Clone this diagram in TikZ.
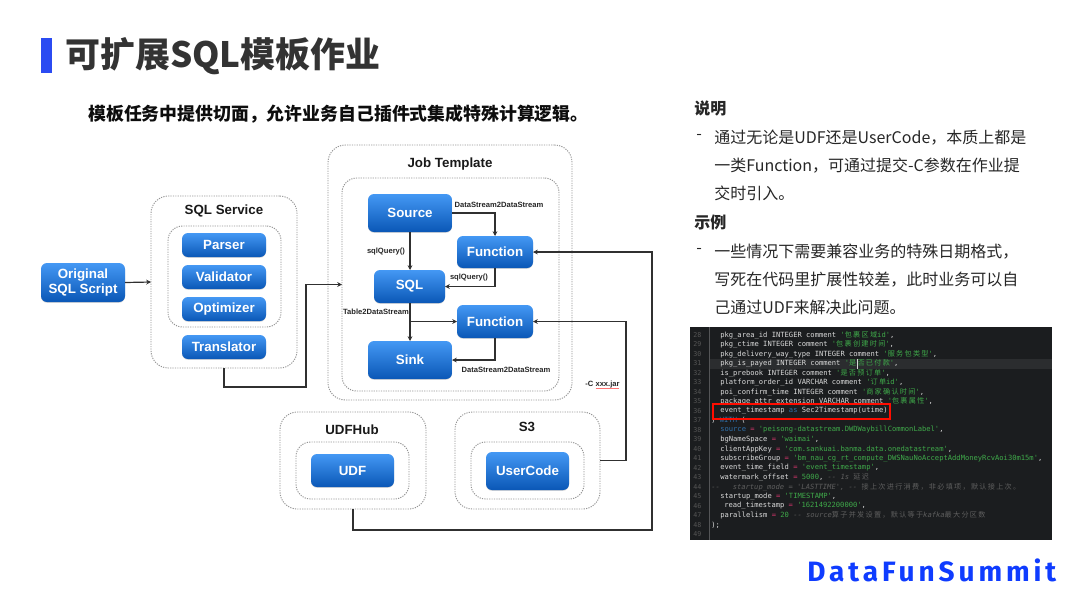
\documentclass[tikz,border=0pt]{standalone}
\usepackage{fontspec}
\setmainfont{Noto Sans CJK SC}
\setsansfont{Liberation Sans}
\setmonofont{DejaVu Sans Mono}
\newfontfamily\codezh[LetterSpace=18]{Noto Sans CJK SC}
\newfontfamily\logofont[LetterSpace=14]{Fira Sans}
\usetikzlibrary{arrows.meta, positioning, shadows}
\definecolor{barblue}{HTML}{2B4BF2}
\definecolor{logoblue}{HTML}{0F3CFF}
\definecolor{boxtop}{HTML}{4498F4}
\definecolor{boxbottom}{HTML}{0A57B6}
\definecolor{wirecol}{HTML}{303030}
\definecolor{codebg}{HTML}{1B1D1F}
\definecolor{codeband}{HTML}{2B2D2F}
\definecolor{codetxt}{HTML}{DADADA}
\definecolor{codestr}{HTML}{3FAA4A}
\definecolor{codekw}{HTML}{2F6FA8}
\definecolor{codeop}{HTML}{D0356A}
\definecolor{codecom}{HTML}{5E5E5E}
\definecolor{codenumcol}{HTML}{555555}
\newcommand{\zhs}[1]{\textcolor{codestr}{'{\codezh #1}}}
\newcommand{\strq}[1]{\textcolor{codestr}{#1}}
\newcommand{\eqop}{\textcolor{codeop}{=}}
\newcommand{\kwd}[1]{\textcolor{codekw}{#1}}
\newcommand{\comt}[1]{\textcolor{codecom}{\itshape #1}}
\tikzset{
  bluebox/.style={rounded corners=4.5pt, top color=boxtop, bottom color=boxbottom, text=white,
    font=\sffamily\bfseries\fontsize{10}{12}\selectfont, align=center, inner sep=0pt, outer sep=0pt,
    drop shadow={shadow xshift=0pt, shadow yshift=-0.6pt, opacity=0.3}},
  outerbox/.style={draw=gray!85, dash pattern=on 0.9pt off 0.9pt, rounded corners=13pt, inner sep=0pt, outer sep=0pt, line width=0.7pt},
  innerbox/.style={draw=gray!85, dash pattern=on 0.9pt off 0.9pt, rounded corners=11pt, inner sep=0pt, outer sep=0pt, line width=0.7pt},
  wire/.style={draw=wirecol, line width=0.9pt, -{Stealth[length=3.6pt,width=3.6pt]}},
  boxtitle/.style={font=\sffamily\bfseries\fontsize{10}{12}\selectfont, text=black!90, inner sep=0pt},
  wirelabel/.style={font=\sffamily\bfseries\fontsize{5.7}{7}\selectfont, text=black!85, inner sep=0pt},
  bodytext/.style={font=\fontsize{12}{14}\selectfont, text=black!85, anchor=west, inner sep=0pt},
  codetext/.style={font=\ttfamily\fontsize{5.35}{6}\selectfont, text=codetxt, anchor=west, inner sep=0pt},
  codenum/.style={font=\ttfamily\fontsize{5}{6}\selectfont, text=codenumcol, anchor=west, inner sep=0pt},
}
\begin{document}
\begin{tikzpicture}[x=0.75pt, y=-0.75pt]
  \useasboundingbox (0,0) rectangle (1080,608);
  % heading
  \fill[barblue] (41,38) rectangle (52,73);
  \node[anchor=west, inner sep=0pt, text=black!80, font=\bfseries\fontsize{26.2}{30}\selectfont] (title) at (65,56.5) {可扩展SQL模板作业};
  \node[anchor=west, inner sep=0pt, text=black!95, font=\bfseries\fontsize{13.4}{16}\selectfont] (subtitle) at (88,114) {模板任务中提供切面，允许业务自己插件式集成特殊计算逻辑。};
  % containers
  \node[outerbox, minimum width=109.5pt, minimum height=129pt] (sqlservice) at (224,282) {};
  \node[innerbox, minimum width=84.75pt, minimum height=75.75pt] (sqlinner) at (224.5,276.5) {};
  \node[outerbox, minimum width=183pt, minimum height=191.25pt] (jobtemplate) at (450,272.5) {};
  \node[innerbox, minimum width=162.75pt, minimum height=159.75pt] (jobinner) at (450.5,284.5) {};
  \node[outerbox, minimum width=109.5pt, minimum height=72.75pt] (udfhub) at (353,460.5) {};
  \node[innerbox, minimum width=84.75pt, minimum height=42.75pt] (udfinner) at (352.5,470.5) {};
  \node[outerbox, minimum width=108.75pt, minimum height=72.75pt] (sthree) at (527.5,460.5) {};
  \node[innerbox, minimum width=84.75pt, minimum height=42.75pt] (sthreeinner) at (527.5,470.5) {};
  \node[boxtitle] (sqlservicetitle) at (224,211) {SQL Service};
  \node[boxtitle] (jobtitle) at (450,164) {Job Template};
  \node[boxtitle] (udfhubtitle) at (352,430) {UDFHub};
  \node[boxtitle] (sthreetitle) at (527,427) {S3};
  % blue boxes
  \node[bluebox, minimum width=63pt, minimum height=29.25pt] (script) at (83,282.5) {Original\\[-0.5pt]SQL Script};
  \foreach \name/\y/\t in {parser/245/Parser, validator/277/Validator, optimizer/309/Optimizer, translator/347/Translator}
    \node[bluebox, minimum width=63pt, minimum height=18pt] (\name) at (224,\y) {\t};
  \node[bluebox, minimum width=63pt, minimum height=28.5pt] (source) at (410,213) {Source};
  \node[bluebox, minimum width=57pt, minimum height=24pt] (funcone) at (495,252) {Function};
  \node[bluebox, minimum width=53.25pt, minimum height=24.75pt] (sql) at (409.5,286.5) {SQL};
  \node[bluebox, minimum width=57pt, minimum height=24.75pt] (functwo) at (495,321.5) {Function};
  \node[bluebox, minimum width=63pt, minimum height=28.5pt] (sink) at (410,360) {Sink};
  \node[bluebox, minimum width=62.25pt, minimum height=24.75pt] (udf) at (352.5,470.5) {UDF};
  \node[bluebox, minimum width=62.25pt, minimum height=28.5pt] (usercode) at (527.5,471) {UserCode};
  % wires
  \coordinate (jobturn) at (306,387);
  \coordinate (branch) at (410,321.5);
  \coordinate (sthreerail) at (626,321.5);
  \coordinate (udfcorner) at (652,530);
  \coordinate (udfrail) at (652,252);
  \draw[wire] (script.east) -- (sqlservice.west);
  \draw[wire] (sqlservice.south) |- (jobturn) |- (jobinner.west);
  \draw[wire] (source.east) -| (funcone.north);
  \draw[wire] (source.south) -- (sql.north -| source.south);
  \draw[wire] (funcone.south) |- (sql.east);
  \draw[wire] (sql.south -| source.south) -- (sink.north);
  \draw[wire] (branch) -- (functwo.west);
  \draw[wire] (functwo.south) |- (sink.east);
  \draw[wire] (sthree.east) -| (sthreerail) -- (functwo.east);
  \draw[wire] (udfhub.south) |- (udfcorner) -- (udfrail) -- (funcone.east);
  \node[wirelabel] (dsone) at (499,205) {DataStream2DataStream};
  \node[wirelabel] (queryone) at (386,252) {sqlQuery()};
  \node[wirelabel] (querytwo) at (469,278) {sqlQuery()};
  \node[wirelabel] (tableds) at (376,312) {Table2DataStream};
  \node[wirelabel] (dstwo) at (506,370) {DataStream2DataStream};
  \node[wirelabel] (jarflag) at (602.5,385) {-C \rlap{\raisebox{-1.2pt}{\textcolor{red!55}{\rule{17.5pt}{0.4pt}}}}xxx.jar};
  % right column
  \node[bodytext, font=\bfseries\fontsize{12}{14}\selectfont] (notehead) at (694,108) {说明};
  \node[bodytext] (notedash) at (696,137) {-};
  \node[bodytext] (noteone) at (714,137.5) {通过无论是UDF还是UserCode，本质上都是};
  \node[bodytext] (notetwo) at (714,165.5) {一类Function，可通过提交-C参数在作业提};
  \node[bodytext] (notethree) at (714,193.5) {交时引入。};
  \node[bodytext, font=\bfseries\fontsize{12}{14}\selectfont] (samplehead) at (694,222) {示例};
  \node[bodytext] (sampledash) at (696,251) {-};
  \node[bodytext] (sampleone) at (714,251.5) {一些情况下需要兼容业务的特殊日期格式，};
  \node[bodytext] (sampletwo) at (714,279.5) {写死在代码里扩展性较差，此时业务可以自};
  \node[bodytext] (samplethree) at (714,307.5) {己通过UDF来解决此问题。};
  % code screenshot
  \fill[codebg] (690,327) rectangle (1052,540);
  \fill[codeband] (709,358.5) rectangle (1052,368.5);
  \draw[white!25!codebg, line width=0.4pt] (709,327) -- (709,540);
  \foreach \n in {28,...,49}
    \node[codenum] (num\n) at (693,{335+(\n-28)*9.5}) {\n};
  \foreach \n/\x/\t in {
    28/720/{pkg\_area\_id INTEGER comment \zhs{包裹区域}\strq{id'},},
    29/720/{pkg\_ctime INTEGER comment \zhs{包裹创建时间}\strq{'},},
    30/720/{pkg\_delivery\_way\_type INTEGER comment \zhs{服务包类型}\strq{'},},
    31/720/{pkg\_is\_payed INTEGER comment \zhs{是否已付款}\strq{'},},
    32/720/{is\_prebook INTEGER comment \zhs{是否预订单}\strq{'},},
    33/720/{platform\_order\_id VARCHAR comment \zhs{订单}\strq{id'},},
    34/720/{poi\_confirm\_time INTEGER comment \zhs{商家确认时间}\strq{'},},
    35/720/{package\_attr\_extension VARCHAR comment \zhs{包裹属性}\strq{'},},
    36/720/{event\_timestamp \kwd{as} Sec2Timestamp(utime)},
    37/711/{) \kwd{WITH} (},
    38/720/{\kwd{source} \eqop{} \strq{'peisong-datastream.DWDWaybillCommonLabel'},},
    39/720/{bgNameSpace \eqop{} \strq{'waimai'},},
    40/720/{clientAppKey \eqop{} \strq{'com.sankuai.banma.data.onedatastream'},},
    41/720/{subscribeGroup \eqop{} \strq{'bm\_nau\_cg\_rt\_compute\_DWSNauNoAcceptAddMoneyRcvAoi30m15m'},},
    42/720/{event\_time\_field \eqop{} \strq{'event\_timestamp'},},
    43/720/{watermark\_offset \eqop{} \strq{5000}, \comt{-- 1s {\codezh 延迟}}},
    44/711/{\comt{--\ \ \ startup\_mode = 'LASTTIME', -- {\codezh 接上次进行消费，非必填项，默认接上次。}}},
    45/720/{startup\_mode \eqop{} \strq{'TIMESTAMP'},},
    46/724/{read\_timestamp \eqop{} \strq{'1621492200000'},},
    47/720/{parallelism \eqop{} \strq{20} \comt{-- source{\codezh 算子并发设置，默认等于}kafka{\codezh 最大分区数}}},
    48/711/{);}}
    \node[codetext] (code\n) at (\x,{335+(\n-28)*9.5}) {\t};
  \draw[white!85!black, line width=0.4pt] (857,358.5) -- (857,368.5);
  \node[draw=red!90!orange, line width=0.8pt, inner sep=0pt, minimum width=132.75pt, minimum height=11.25pt] (redmark) at (801.5,411.5) {};
  % logo
  \node[anchor=west, inner sep=0pt, text=logoblue, font=\logofont\bfseries\fontsize{21}{24}\selectfont] (logo) at (807,570.5) {DataFunSummit};
\end{tikzpicture}
\end{document}
